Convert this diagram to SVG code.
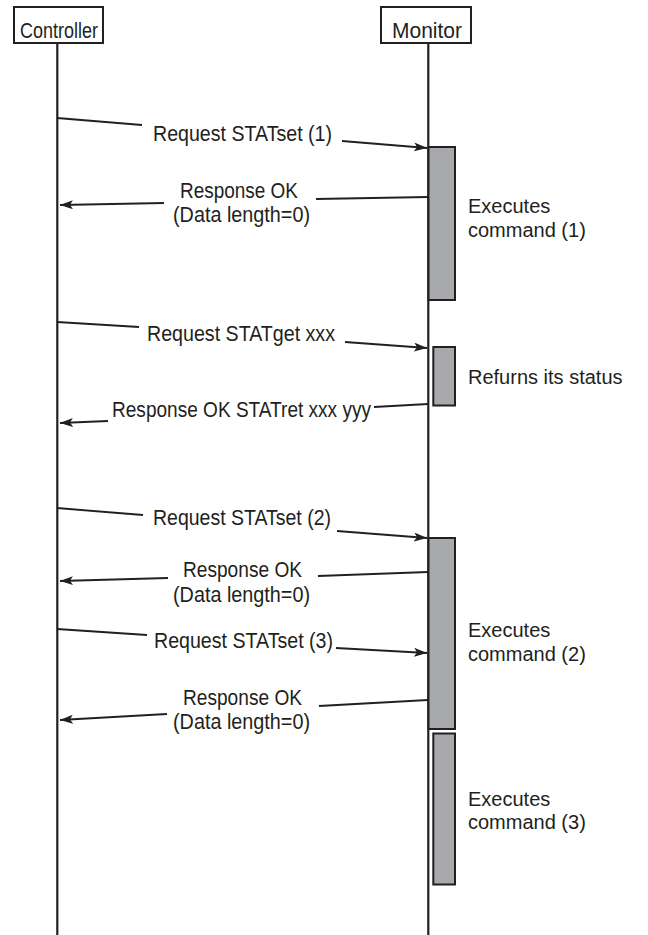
<svg xmlns="http://www.w3.org/2000/svg" width="648" height="935" viewBox="0 0 648 935">
<style>
.box{fill:#ffffff;stroke:#231f20;stroke-width:2}
.life{stroke:#231f20;stroke-width:2.2;fill:none}
.act{fill:#a7a9ac;stroke:#231f20;stroke-width:2}
.msg{stroke:#231f20;stroke-width:1.8;fill:none}
.arr{marker-end:url(#ah)}
.hd{font-family:"Liberation Sans",Arial,sans-serif;font-size:22px;fill:#231f20}
.lb{font-family:"Liberation Sans",Arial,sans-serif;font-size:22.5px;fill:#231f20}
.nt{font-family:"Liberation Sans",Arial,sans-serif;font-size:20px;fill:#231f20}
</style>
<defs>
<marker id="ah" markerUnits="userSpaceOnUse" markerWidth="14" markerHeight="10" refX="13" refY="4.5" orient="auto">
<path d="M0,0 L13,4.5 L0,9 L3,4.5 z" fill="#231f20"/>
</marker>
</defs>

<g id="controller">
<rect class="box" x="14" y="7" width="89" height="36"/>
<text class="hd" x="20" y="38" textLength="78" lengthAdjust="spacingAndGlyphs">Controller</text>
<line class="life" x1="57.3" y1="43" x2="57.3" y2="935"/>
</g>

<g id="monitor">
<rect class="box" x="381" y="7" width="90" height="36"/>
<text class="hd" x="392" y="38" textLength="70" lengthAdjust="spacingAndGlyphs">Monitor</text>
<line class="life" x1="428.3" y1="43" x2="428.3" y2="935"/>
</g>

<g id="exec1">
<rect class="act" x="428.5" y="147" width="26.5" height="153"/>
<text class="nt" x="468" y="213">Executes</text>
<text class="nt" x="468" y="237">command (1)</text>
</g>

<g id="status">
<rect class="act" x="433.3" y="347" width="21.7" height="58.5"/>
<text class="nt" x="468" y="384">Refurns its status</text>
</g>

<g id="exec2">
<rect class="act" x="428.5" y="538" width="26.5" height="191"/>
<text class="nt" x="468" y="637">Executes</text>
<text class="nt" x="468" y="661">command (2)</text>
</g>

<g id="exec3">
<rect class="act" x="433.3" y="733.5" width="21.7" height="151"/>
<text class="nt" x="468" y="806">Executes</text>
<text class="nt" x="468" y="829">command (3)</text>
</g>

<g id="connectors">
<g id="m1">
<line class="msg" x1="57" y1="118" x2="142" y2="125"/>
<line class="msg arr" x1="342" y1="141" x2="427" y2="148"/>
<text class="lb" x="153" y="141" textLength="179" lengthAdjust="spacingAndGlyphs">Request STATset (1)</text>
</g>
<g id="m2">
<line class="msg" x1="428" y1="197" x2="316" y2="199"/>
<line class="msg arr" x1="164" y1="203" x2="60" y2="205"/>
<text class="lb" x="180" y="197.5" textLength="118" lengthAdjust="spacingAndGlyphs">Response OK</text>
<text class="lb" x="173" y="221.5" textLength="137" lengthAdjust="spacingAndGlyphs">(Data length=0)</text>
</g>
<g id="m3">
<line class="msg" x1="57" y1="322" x2="139" y2="327"/>
<line class="msg arr" x1="345" y1="342" x2="427" y2="348"/>
<text class="lb" x="147" y="341" textLength="188" lengthAdjust="spacingAndGlyphs">Request STATget xxx</text>
</g>
<g id="m4">
<line class="msg" x1="428" y1="404" x2="374" y2="407"/>
<line class="msg arr" x1="108" y1="421" x2="60" y2="423"/>
<text class="lb" x="112" y="417" textLength="259" lengthAdjust="spacingAndGlyphs">Response OK STATret xxx yyy</text>
</g>
<g id="m5">
<line class="msg" x1="57" y1="508" x2="143" y2="515"/>
<line class="msg arr" x1="337" y1="531" x2="427" y2="538"/>
<text class="lb" x="153" y="525" textLength="178" lengthAdjust="spacingAndGlyphs">Request STATset (2)</text>
</g>
<g id="m6">
<line class="msg" x1="428" y1="572" x2="318" y2="576"/>
<line class="msg arr" x1="168" y1="578" x2="60" y2="581"/>
<text class="lb" x="183" y="577" textLength="119" lengthAdjust="spacingAndGlyphs">Response OK</text>
<text class="lb" x="173" y="602" textLength="137" lengthAdjust="spacingAndGlyphs">(Data length=0)</text>
</g>
<g id="m7">
<line class="msg" x1="57" y1="629" x2="147" y2="635"/>
<line class="msg arr" x1="336" y1="648" x2="427" y2="653"/>
<text class="lb" x="154" y="648" textLength="179" lengthAdjust="spacingAndGlyphs">Request STATset (3)</text>
</g>
<g id="m8">
<line class="msg" x1="428" y1="700" x2="319" y2="706"/>
<line class="msg arr" x1="167" y1="714" x2="60" y2="720"/>
<text class="lb" x="183" y="705" textLength="119" lengthAdjust="spacingAndGlyphs">Response OK</text>
<text class="lb" x="173" y="729" textLength="137" lengthAdjust="spacingAndGlyphs">(Data length=0)</text>
</g>
</g>
</svg>
